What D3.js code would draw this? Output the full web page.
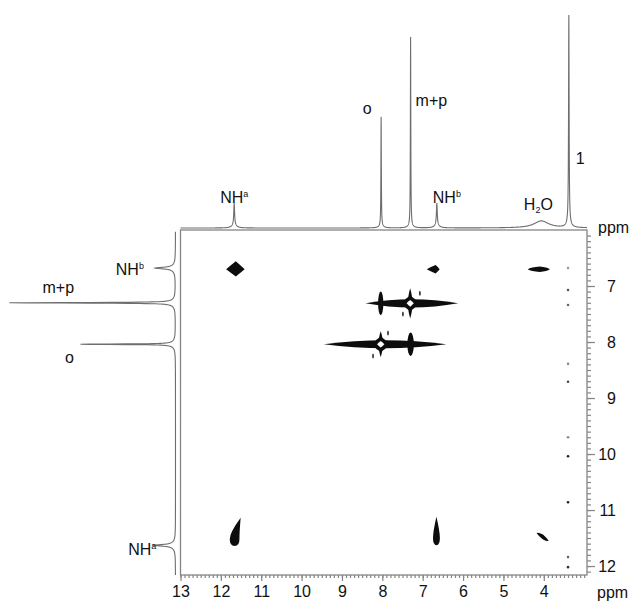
<!DOCTYPE html>
<html>
<head>
<meta charset="utf-8">
<script src="https://cdn.jsdelivr.net/npm/d3@7"></script>
<style>
  body { margin: 0; background: #fff; }
  svg text { font-family: "Liberation Sans Narrow", "Arial Narrow", "Liberation Sans", Arial, sans-serif; fill: #111; }
</style>
</head>
<body>
<svg id="chart" width="629" height="601"></svg>
<script>
// F2 trace on top: shift (ppm), relative intensity, line width (ppm), foot intensity
const topShift = [11.67, 8.03, 7.30, 6.65, 4.06, 3.38];
const topInt   = [10, 51, 88, 10, 3.3, 97];
const topWidth = [0.012, 0.006, 0.006, 0.012, 0.22, 0.008];
const topFoot  = [1.6, 1.0, 1.2, 1.6, 0, 2.2];
const topNames = ["NH|a", "o", "m+p", "NH|b", "H2O", "1"];

// F1 projection on the left
const leftShift = [6.68, 7.30, 8.04, 11.63];
const leftInt   = [10, 98, 55, 11];
const leftWidth = [0.015, 0.006, 0.006, 0.015];
const leftFoot  = [2.4, 2.4, 2.4, 2.4];
const leftNames = ["NH|b", "m+p", "o", "NH|a"];

// cross peaks (f2, f1 in ppm) with extents in ppm
const crossPeaks = [
  { f2: 11.63, f1: 6.70, kind: "blob", l: 0.24, r: 0.22, u: 0.14, d: 0.13, c: 0.5, tip: 0 },
  { f2: 6.68,  f1: 6.70, kind: "blob", l: 0.22, r: 0.10, u: 0.075, d: 0.075, c: 0.55, tip: 0 },
  { f2: 4.10,  f1: 6.70, kind: "blob", l: 0.30, r: 0.25, u: 0.05,  d: 0.05, c: 0.72, tip: 0 },
  { f2: 11.66, f1: 11.52, kind: "drop", l: 0.12, r: 0.12, u: 0.38, d: 0.12, tilt: 0.15 },
  { f2: 6.66,  f1: 11.50, kind: "drop", l: 0.085, r: 0.085, u: 0.38, d: 0.13, tilt: 0 },
  { f2: 4.02,  f1: 11.48, kind: "blob", l: 0.16, r: 0.14, u: 0.045, d: 0.045, c: 0.72, tip: 0.07 }
];
// diagonal peaks of the aromatic ring with their t1 ridge
const diagPeaks = [
  { f: 7.31, l: 1.11, r: 1.19, v: 0.27, lw: 0.075 },
  { f: 8.04, l: 1.41, r: 1.63, v: 0.23, lw: 0.07 }
];
// o / m+p cross peaks sitting on the ridges
const ridgeBars = [
  { f2: 8.04, f1: 7.31, w: 0.065, h: 0.21 },
  { f2: 7.30, f1: 8.04, w: 0.08, h: 0.21 }
];
// small specks near the diagonal
const specks = [[7.49, 7.50], [8.23, 8.25], [7.07, 7.13], [7.86, 7.84]];
// t1 noise on the 3.4 ppm column
const noiseF2 = 3.40;
const noiseF1 = [6.68, 7.07, 7.34, 8.39, 8.71, 9.70, 10.04, 10.86, 11.84, 12.02];
const noiseLevel = [0.3, 0.7, 0.6, 0.4, 0.8, 0.4, 1, 1, 0.6, 0.9];

const xTicks = [4, 5, 6, 7, 8, 9, 10, 11, 12, 13];
const yTicks = [7, 8, 9, 10, 11, 12];

const svg = d3.select("#chart");
const grey = "#858585";

const x = d3.scaleLinear().domain([13, 2.93]).range([180.5, 587]);
const y = d3.scaleLinear().domain([6.0, 12.16]).range([230, 575]);
const yTop = d3.scaleLinear().domain([0, 100]).range([228, 14]);
const xLeft = d3.scaleLinear().domain([0, 100]).range([175.5, 10]);

const footW = 0.06;
function trace(shift, ints, widths, foot, p) {
  let s = 0;
  for (let i = 0; i < shift.length; i++) {
    const d = p - shift[i];
    s += ints[i] * widths[i] * widths[i] / (d * d + widths[i] * widths[i]);
    s += foot[i] * footW * footW / (d * d + footW * footW);
  }
  return s;
}

// box
svg.append("rect")
  .attr("x", x(13)).attr("y", y(6.0))
  .attr("width", x(2.93) - x(13)).attr("height", y(12.16) - y(6.0))
  .attr("fill", "none").attr("stroke", grey).attr("stroke-width", 1.3);

// axes
function styleAxis(g) {
  g.select(".domain").remove();
  g.selectAll("line").attr("stroke", grey).attr("stroke-width", 1.2);
}
svg.append("g").attr("transform", `translate(0,${y(12.16)})`)
  .call(d3.axisBottom(x).tickValues(d3.range(3.0, 13.001, 0.1)).tickSize(3).tickFormat(""))
  .call(styleAxis);
const gx = svg.append("g").attr("transform", `translate(0,${y(12.16)})`)
  .call(d3.axisBottom(x).tickValues(xTicks).tickSize(6).tickPadding(5).tickFormat(d3.format("d")))
  .call(styleAxis);
gx.selectAll("text").attr("font-size", 16).attr("fill", "#111");

svg.append("g").attr("transform", `translate(${x(2.93)},0)`)
  .call(d3.axisRight(y).tickValues(d3.range(6.1, 12.16, 0.1)).tickSize(4).tickFormat(""))
  .call(styleAxis);
const gy = svg.append("g").attr("transform", `translate(${x(2.93)},0)`)
  .call(d3.axisRight(y).tickValues(yTicks).tickSize(8).tickFormat(d3.format("d")))
  .call(styleAxis);
gy.selectAll("text").attr("font-size", 16).attr("fill", "#111")
  .attr("x", 29).attr("text-anchor", "end");

svg.append("text").attr("x", 598).attr("y", 233).attr("font-size", 16).text("ppm");
svg.append("text").attr("x", 597).attr("y", 598).attr("font-size", 16).text("ppm");

// top trace
const topPts = d3.range(2.93, 13.0001, 0.002).concat(topShift).sort((a, b) => a - b);
svg.append("path")
  .attr("d", d3.line().x(p => x(p)).y(p => yTop(trace(topShift, topInt, topWidth, topFoot, p)))(topPts))
  .attr("fill", "none").attr("stroke", "#6e6e6e").attr("stroke-width", 1.1);

// left projection
const leftPts = d3.range(6.03, 12.16, 0.002).concat(leftShift).sort((a, b) => a - b);
svg.append("path")
  .attr("d", d3.line().x(p => xLeft(trace(leftShift, leftInt, leftWidth, leftFoot, p))).y(p => y(p))(leftPts))
  .attr("fill", "none").attr("stroke", "#6e6e6e").attr("stroke-width", 1.1);

// labels with super/subscripts
function label(g, name, px, py, anchor) {
  const t = g.append("text").attr("x", px).attr("y", py).attr("font-size", 16).attr("text-anchor", anchor);
  if (name.includes("|")) {
    const [main, sup] = name.split("|");
    t.append("tspan").text(main);
    t.append("tspan").attr("font-size", 9).attr("dy", -6).text(sup);
  } else if (name === "H2O") {
    t.append("tspan").text("H");
    t.append("tspan").attr("font-size", 9).attr("dy", 3).text("2");
    t.append("tspan").attr("dy", -3).text("O");
  } else {
    t.text(name);
  }
}
const topOffset = [[0, -4, "middle"], [-14, -5, "middle"], [5, 66, "start"], [10, -4, "middle"], [-3, -11, "middle"], [7, 144, "start"]];
topNames.forEach((n, i) => {
  const o = topOffset[i];
  label(svg, n, x(topShift[i]) + o[0], yTop(topInt[i]) + o[1], o[2]);
});
const leftOffset = [[-15, 7, "end"], [45, -10, "middle"], [-15, 19, "middle"], [-1, 10, "end"]];
leftNames.forEach((n, i) => {
  const o = leftOffset[i];
  label(svg, n, xLeft(leftInt[i]) + o[0], y(leftShift[i]) + o[1], o[2]);
});

// 2D contour marks
const plot = svg.append("g");
const ink = "#0d0d0d";

function blobPath(p) {
  const cx = x(p.f2), cy = y(p.f1);
  const pts = [
    [x(p.f2 + p.l), y(p.f1 - p.tip)],
    [cx, y(p.f1 - p.u)],
    [x(p.f2 - p.r), y(p.f1 + p.tip)],
    [cx, y(p.f1 + p.d)]
  ];
  const ctrl = (a, b) => [cx + p.c * (a[0] - cx + b[0] - cx), cy + p.c * (a[1] - cy + b[1] - cy)];
  let s = `M${pts[0]}`;
  for (let i = 0; i < 4; i++) {
    const a = pts[i], b = pts[(i + 1) % 4];
    s += `Q${ctrl(a, b)} ${b}`;
  }
  return s + "Z";
}
function dropPath(p) {
  const T = [x(p.f2 - p.tilt), y(p.f1 - p.u)];
  const R = [x(p.f2 - p.r), y(p.f1)];
  const B = [x(p.f2), y(p.f1 + p.d)];
  const L = [x(p.f2 + p.l), y(p.f1)];
  return `M${T}Q${R[0]},${R[1] - (R[1] - T[1]) * 0.3} ${R}Q${R[0]},${B[1]} ${B}` +
    `Q${L[0]},${B[1]} ${L}Q${L[0]},${L[1] - (L[1] - T[1]) * 0.3} ${T}Z`;
}
function lensH(x1, x2, cy, t) {
  const L = x2 - x1;
  return `M${x1},${cy}C${x1 + L / 3},${cy - t * 1.33} ${x2 - L / 3},${cy - t * 1.33} ${x2},${cy}` +
    `C${x2 - L / 3},${cy + t * 1.33} ${x1 + L / 3},${cy + t * 1.33} ${x1},${cy}Z`;
}
function lensV(y1, y2, cx, t) {
  const L = y2 - y1;
  return `M${cx},${y1}C${cx + t * 1.33},${y1 + L / 3} ${cx + t * 1.33},${y2 - L / 3} ${cx},${y2}` +
    `C${cx - t * 1.33},${y2 - L / 3} ${cx - t * 1.33},${y1 + L / 3} ${cx},${y1}Z`;
}

plot.selectAll(".cross").data(crossPeaks).join("path")
  .attr("d", p => p.kind === "blob" ? blobPath(p) : dropPath(p))
  .attr("fill", ink);

diagPeaks.forEach(p => {
  const cy = y(p.f), cx = x(p.f);
  const t = y(p.f + p.lw) - cy;
  plot.append("path").attr("d", lensH(x(p.f + p.l), x(p.f - p.r), cy, t)).attr("fill", ink);
  plot.append("path").attr("d", lensV(y(p.f - p.v), y(p.f + p.v), cx, x(p.f) - x(p.f + 0.055))).attr("fill", ink);
  plot.append("path").attr("d", blobPath({ f2: p.f, f1: p.f, l: 0.21, r: 0.21, u: 0.14, d: 0.14, c: 0.6, tip: 0 })).attr("fill", ink);
  plot.append("path").attr("d", blobPath({ f2: p.f, f1: p.f, l: 0.09, r: 0.09, u: 0.06, d: 0.06, c: 0.55, tip: 0 })).attr("fill", "#fff");
});

plot.selectAll(".bar").data(ridgeBars).join("ellipse")
  .attr("cx", b => x(b.f2)).attr("cy", b => y(b.f1))
  .attr("rx", b => x(b.f2 - b.w) - x(b.f2)).attr("ry", b => y(b.f1 + b.h) - y(b.f1))
  .attr("fill", ink);

plot.selectAll(".speck").data(specks).join("ellipse")
  .attr("cx", s => x(s[0])).attr("cy", s => y(s[1]))
  .attr("rx", 0.9).attr("ry", 2.5).attr("fill", "#333");

const noiseShade = d3.scaleLinear().domain([0, 1]).range(["#d0d0d0", "#222"]);
plot.selectAll(".noise").data(noiseF1).join("circle")
  .attr("cx", x(noiseF2)).attr("cy", f => y(f))
  .attr("r", 1.3).attr("fill", (f, i) => noiseShade(noiseLevel[i]));
</script>
</body>
</html>
